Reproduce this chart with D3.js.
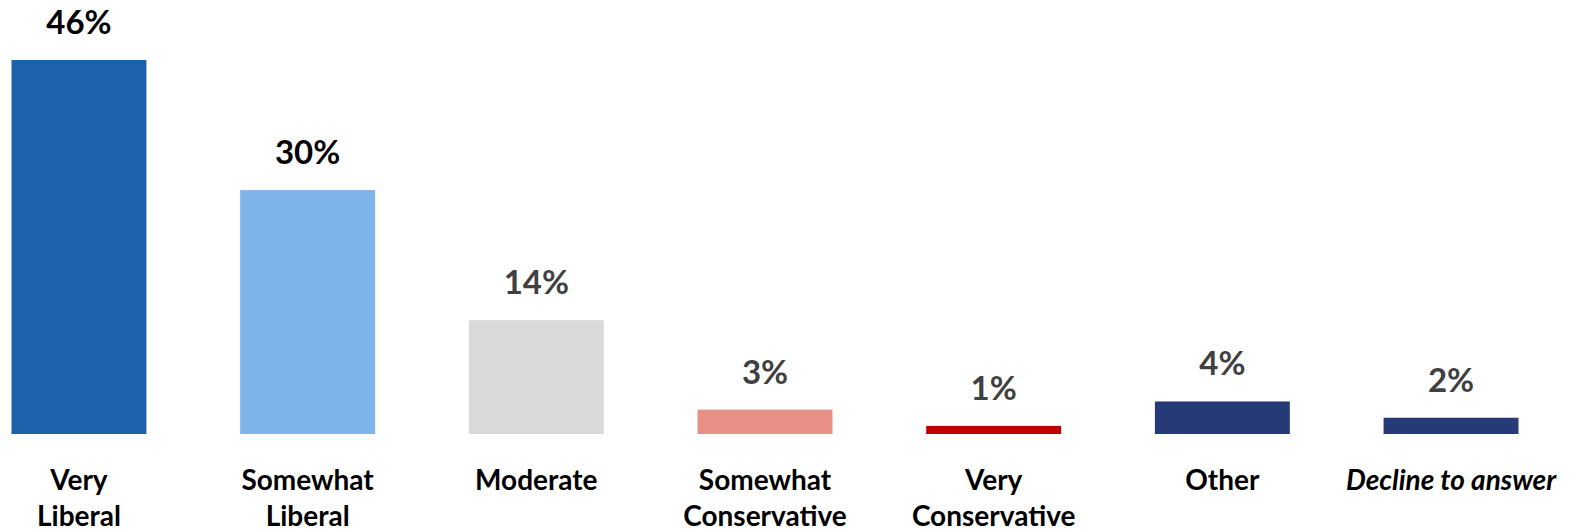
<!DOCTYPE html>
<html lang="en">
<head>
  <meta charset="UTF-8">
  <script src="https://d3js.org/d3.v7.min.js"></script>
  <title>Political ideology</title>
  <style>
    body { margin: 0; background: #fff; }
    svg { display: block; font-family: Lato, "Open Sans", sans-serif; }
    .value { font-weight: 700; font-size: 33px; text-anchor: middle; }
    .cat { font-weight: 700; font-size: 28px; text-anchor: middle; fill: #000; }
  </style>
</head>
<body>
<div id="chart"></div>
<script>
  // categories, one line per array entry
  const categories = [
    ["Very", "Liberal"],
    ["Somewhat", "Liberal"],
    ["Moderate"],
    ["Somewhat", "Conservative"],
    ["Very", "Conservative"],
    ["Other"],
    ["Decline to answer"]
  ];
  const values = [46, 30, 14, 3, 1, 4, 2];
  const barColors = ["#1C63AC", "#7FB4EA", "#D9D9D9", "#E88F86", "#C00000", "#253A76", "#253A76"];
  const labelColors = ["#000", "#000", "#404040", "#404040", "#404040", "#404040", "#404040"];

  const width = 1573, height = 532;
  const baseY = 434;

  const svg = d3.select("#chart").append("svg")
    .attr("width", width)
    .attr("height", height);

  const x = d3.scaleBand()
    .domain(d3.range(values.length))
    .range([11.5, 1518.5])
    .paddingInner(0.41)
    .paddingOuter(0);

  const y = d3.scaleLinear()
    .domain([0, 46])
    .range([baseY, 60]);

  // bars
  svg.append("g")
    .selectAll("rect")
    .data(values)
    .enter()
    .append("rect")
    .attr("x", (d, i) => x(i))
    .attr("y", d => y(d))
    .attr("width", x.bandwidth())
    .attr("height", d => baseY - y(d))
    .attr("fill", (d, i) => barColors[i]);

  // value labels
  svg.append("g")
    .selectAll("text")
    .data(values)
    .enter()
    .append("text")
    .attr("class", "value")
    .attr("x", (d, i) => x(i) + x.bandwidth() / 2)
    .attr("y", d => y(d) - 26)
    .attr("fill", (d, i) => labelColors[i])
    .text(d => d + "%");

  // category labels
  const cat = svg.append("g")
    .selectAll("text")
    .data(categories)
    .enter()
    .append("text")
    .attr("class", "cat")
    .attr("x", (d, i) => x(i) + x.bandwidth() / 2)
    .attr("y", 490)
    .style("font-style", (d, i) => i === categories.length - 1 ? "italic" : null);

  cat.selectAll("tspan")
    .data(d => d)
    .enter()
    .append("tspan")
    .attr("x", function () { return d3.select(this.parentNode).attr("x"); })
    .attr("dy", (d, j) => j === 0 ? 0 : 36)
    .text(d => d);
</script>
</body>
</html>
